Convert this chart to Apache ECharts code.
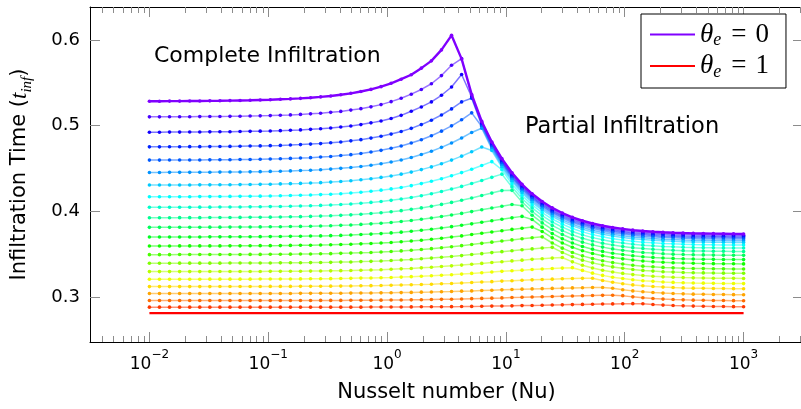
<!DOCTYPE html>
<html>
<head>
<meta charset="utf-8">
<script src="https://cdn.jsdelivr.net/npm/echarts@6/dist/echarts.min.js"></script>
<style>
  html, body { margin: 0; padding: 0; background: #fff; }
  #chart { width: 801px; height: 409px; }
</style>
</head>
<body>
<div id="chart"></div>
<script>
// Nusselt numbers of the sampled cases (60 log-spaced values, 1e-2 .. 1e3)
const nu = [0.01, 0.012155, 0.014774, 0.017957, 0.021827, 0.02653, 0.032247, 0.039195, 0.047641, 0.057906,
  0.070384, 0.08555, 0.10398, 0.12638, 0.15362, 0.18672, 0.22696, 0.27585, 0.33529, 0.40754,
  0.49536, 0.6021, 0.73185, 0.88955, 1.0812, 1.3141, 1.5973, 1.9415, 2.3599, 2.8683,
  3.4864, 4.2377, 5.1508, 6.2607, 7.6097, 9.2494, 11.242, 13.664, 16.609, 20.188,
  24.538, 29.825, 36.252, 44.064, 53.559, 65.1, 79.127, 96.178, 116.9, 142.08,
  172.7, 209.91, 255.15, 310.13, 376.95, 458.18, 556.9, 676.9, 822.76, 1000];

// Infiltration time t_inf for each theta_e curve (theta_e = 0 first, theta_e = 1 last)
const tInf00 = [0.5286,0.5286,0.5287,0.5287,0.5288,0.5289,0.5290,0.5291,0.5293,0.5295,0.5297,0.5300,0.5303,0.5308,0.5313,0.5319,0.5327,0.5336,0.5347,0.5361,0.5378,0.5399,0.5424,0.5456,0.5495,0.5543,0.5595,0.5672,0.5757,0.5885,0.6055,0.5780,0.5365,0.5050,0.4810,0.4615,0.4450,0.4315,0.4205,0.4115,0.4040,0.3980,0.3930,0.3890,0.3858,0.3832,0.3811,0.3795,0.3781,0.3770,0.3762,0.3755,0.3750,0.3746,0.3743,0.3741,0.3739,0.3738,0.3737,0.3736];
const tInf01 = [0.5103,0.5103,0.5104,0.5104,0.5105,0.5106,0.5107,0.5108,0.5109,0.5111,0.5113,0.5115,0.5118,0.5122,0.5126,0.5132,0.5138,0.5146,0.5156,0.5167,0.5182,0.5199,0.5220,0.5246,0.5281,0.5320,0.5368,0.5423,0.5490,0.5585,0.5705,0.5783,0.5350,0.5035,0.4795,0.4600,0.4435,0.4300,0.4190,0.4100,0.4025,0.3965,0.3915,0.3875,0.3843,0.3817,0.3796,0.3780,0.3766,0.3755,0.3747,0.3740,0.3735,0.3731,0.3728,0.3726,0.3724,0.3723,0.3722,0.3721];
const tInf02 = [0.4924,0.4924,0.4925,0.4925,0.4926,0.4927,0.4928,0.4929,0.4930,0.4932,0.4934,0.4936,0.4938,0.4942,0.4946,0.4951,0.4957,0.4964,0.4973,0.4984,0.4997,0.5013,0.5033,0.5055,0.5084,0.5121,0.5168,0.5219,0.5278,0.5355,0.5452,0.5597,0.5335,0.5020,0.4780,0.4585,0.4420,0.4285,0.4175,0.4085,0.4010,0.3950,0.3900,0.3860,0.3828,0.3802,0.3781,0.3765,0.3751,0.3740,0.3732,0.3725,0.3720,0.3716,0.3713,0.3711,0.3709,0.3708,0.3707,0.3706];
const tInf03 = [0.4753,0.4753,0.4754,0.4754,0.4755,0.4755,0.4756,0.4757,0.4758,0.4760,0.4762,0.4764,0.4767,0.4770,0.4774,0.4779,0.4785,0.4791,0.4800,0.4810,0.4823,0.4837,0.4855,0.4876,0.4902,0.4933,0.4969,0.5013,0.5064,0.5125,0.5196,0.5278,0.5320,0.5005,0.4765,0.4570,0.4405,0.4270,0.4160,0.4070,0.3995,0.3935,0.3885,0.3845,0.3813,0.3787,0.3766,0.3750,0.3736,0.3725,0.3717,0.3710,0.3705,0.3701,0.3698,0.3696,0.3694,0.3693,0.3692,0.3691];
const tInf04 = [0.4598,0.4598,0.4599,0.4599,0.4599,0.4600,0.4601,0.4602,0.4603,0.4605,0.4606,0.4608,0.4611,0.4614,0.4618,0.4622,0.4627,0.4634,0.4641,0.4651,0.4662,0.4676,0.4692,0.4712,0.4736,0.4763,0.4797,0.4836,0.4882,0.4936,0.4998,0.5069,0.5150,0.4990,0.4750,0.4555,0.4390,0.4255,0.4145,0.4055,0.3980,0.3920,0.3870,0.3830,0.3798,0.3772,0.3751,0.3735,0.3721,0.3710,0.3702,0.3695,0.3690,0.3686,0.3683,0.3681,0.3679,0.3678,0.3677,0.3676];
const tInf05 = [0.4454,0.4454,0.4455,0.4455,0.4455,0.4456,0.4457,0.4458,0.4459,0.4460,0.4461,0.4463,0.4466,0.4468,0.4472,0.4476,0.4480,0.4486,0.4493,0.4502,0.4511,0.4524,0.4538,0.4556,0.4576,0.4600,0.4629,0.4663,0.4702,0.4747,0.4798,0.4856,0.4921,0.4970,0.4730,0.4535,0.4370,0.4235,0.4125,0.4035,0.3960,0.3900,0.3850,0.3810,0.3778,0.3752,0.3731,0.3715,0.3701,0.3690,0.3682,0.3675,0.3670,0.3666,0.3663,0.3661,0.3659,0.3658,0.3657,0.3656];
const tInf06 = [0.4307,0.4307,0.4308,0.4308,0.4308,0.4309,0.4309,0.4310,0.4311,0.4312,0.4314,0.4315,0.4317,0.4320,0.4323,0.4326,0.4330,0.4335,0.4341,0.4349,0.4357,0.4368,0.4381,0.4396,0.4413,0.4434,0.4458,0.4487,0.4519,0.4556,0.4598,0.4644,0.4695,0.4751,0.4710,0.4515,0.4350,0.4215,0.4105,0.4015,0.3940,0.3880,0.3830,0.3790,0.3758,0.3732,0.3711,0.3695,0.3681,0.3670,0.3662,0.3655,0.3650,0.3646,0.3643,0.3641,0.3639,0.3638,0.3637,0.3636];
const tInf07 = [0.4170,0.4170,0.4170,0.4171,0.4171,0.4172,0.4172,0.4173,0.4174,0.4175,0.4176,0.4177,0.4179,0.4181,0.4184,0.4187,0.4190,0.4195,0.4200,0.4206,0.4214,0.4223,0.4234,0.4247,0.4262,0.4279,0.4300,0.4324,0.4351,0.4381,0.4415,0.4452,0.4492,0.4535,0.4580,0.4485,0.4320,0.4185,0.4075,0.3985,0.3910,0.3850,0.3800,0.3760,0.3728,0.3702,0.3681,0.3665,0.3651,0.3640,0.3632,0.3625,0.3620,0.3616,0.3613,0.3611,0.3609,0.3608,0.3607,0.3606];
const tInf08 = [0.4047,0.4047,0.4047,0.4048,0.4048,0.4049,0.4049,0.4050,0.4051,0.4051,0.4052,0.4053,0.4055,0.4057,0.4059,0.4062,0.4065,0.4069,0.4074,0.4079,0.4086,0.4094,0.4104,0.4115,0.4128,0.4144,0.4162,0.4182,0.4205,0.4231,0.4260,0.4291,0.4325,0.4360,0.4397,0.4434,0.4285,0.4150,0.4040,0.3950,0.3875,0.3815,0.3765,0.3725,0.3693,0.3667,0.3646,0.3630,0.3616,0.3605,0.3597,0.3590,0.3585,0.3581,0.3578,0.3576,0.3574,0.3573,0.3572,0.3571];
const tInf09 = [0.3925,0.3925,0.3925,0.3926,0.3926,0.3926,0.3927,0.3928,0.3928,0.3929,0.3930,0.3931,0.3932,0.3934,0.3936,0.3938,0.3941,0.3944,0.3948,0.3953,0.3959,0.3966,0.3974,0.3984,0.3995,0.4008,0.4023,0.4040,0.4059,0.4081,0.4104,0.4129,0.4156,0.4184,0.4213,0.4242,0.4245,0.4110,0.4000,0.3910,0.3835,0.3775,0.3725,0.3685,0.3653,0.3627,0.3606,0.3590,0.3576,0.3565,0.3557,0.3550,0.3545,0.3541,0.3538,0.3536,0.3534,0.3533,0.3532,0.3531];
const tInf10 = [0.3813,0.3813,0.3813,0.3814,0.3814,0.3814,0.3815,0.3815,0.3816,0.3816,0.3817,0.3818,0.3819,0.3820,0.3822,0.3824,0.3826,0.3829,0.3832,0.3836,0.3841,0.3847,0.3854,0.3861,0.3870,0.3881,0.3893,0.3907,0.3922,0.3939,0.3957,0.3976,0.3997,0.4018,0.4039,0.4060,0.4080,0.4065,0.3955,0.3865,0.3790,0.3730,0.3680,0.3640,0.3608,0.3582,0.3561,0.3545,0.3531,0.3520,0.3512,0.3505,0.3500,0.3496,0.3493,0.3491,0.3489,0.3488,0.3487,0.3486];
const tInf11 = [0.3700,0.3700,0.3700,0.3701,0.3701,0.3701,0.3702,0.3702,0.3703,0.3703,0.3703,0.3704,0.3705,0.3706,0.3708,0.3709,0.3711,0.3713,0.3716,0.3719,0.3723,0.3729,0.3734,0.3740,0.3748,0.3757,0.3767,0.3779,0.3791,0.3806,0.3821,0.3837,0.3854,0.3872,0.3890,0.3907,0.3924,0.3941,0.3905,0.3815,0.3740,0.3680,0.3630,0.3590,0.3558,0.3532,0.3511,0.3495,0.3481,0.3470,0.3462,0.3455,0.3450,0.3446,0.3443,0.3441,0.3439,0.3438,0.3437,0.3436];
const tInf12 = [0.3595,0.3595,0.3595,0.3596,0.3596,0.3596,0.3596,0.3596,0.3597,0.3597,0.3598,0.3599,0.3599,0.3600,0.3602,0.3603,0.3604,0.3607,0.3609,0.3612,0.3615,0.3620,0.3625,0.3630,0.3636,0.3644,0.3653,0.3663,0.3674,0.3686,0.3700,0.3713,0.3729,0.3744,0.3759,0.3774,0.3789,0.3803,0.3816,0.3765,0.3690,0.3630,0.3580,0.3540,0.3508,0.3482,0.3461,0.3445,0.3431,0.3420,0.3412,0.3405,0.3400,0.3396,0.3393,0.3391,0.3389,0.3388,0.3387,0.3386];
const tInf13 = [0.3494,0.3494,0.3494,0.3495,0.3495,0.3495,0.3495,0.3495,0.3496,0.3496,0.3497,0.3497,0.3498,0.3499,0.3500,0.3501,0.3502,0.3504,0.3506,0.3509,0.3512,0.3516,0.3520,0.3525,0.3531,0.3538,0.3546,0.3555,0.3564,0.3575,0.3587,0.3599,0.3613,0.3626,0.3640,0.3653,0.3666,0.3679,0.3691,0.3702,0.3630,0.3570,0.3520,0.3480,0.3448,0.3422,0.3401,0.3385,0.3371,0.3360,0.3352,0.3345,0.3340,0.3336,0.3333,0.3331,0.3329,0.3328,0.3327,0.3326];
const tInf14 = [0.3394,0.3394,0.3394,0.3395,0.3395,0.3395,0.3395,0.3395,0.3396,0.3396,0.3396,0.3397,0.3397,0.3398,0.3399,0.3400,0.3401,0.3403,0.3404,0.3407,0.3409,0.3413,0.3416,0.3420,0.3425,0.3431,0.3438,0.3446,0.3454,0.3463,0.3473,0.3483,0.3495,0.3506,0.3518,0.3529,0.3540,0.3551,0.3561,0.3571,0.3579,0.3520,0.3470,0.3430,0.3398,0.3372,0.3351,0.3335,0.3321,0.3310,0.3302,0.3295,0.3290,0.3286,0.3283,0.3281,0.3279,0.3278,0.3277,0.3276];
const tInf15 = [0.3296,0.3296,0.3296,0.3296,0.3296,0.3296,0.3297,0.3297,0.3297,0.3297,0.3298,0.3298,0.3299,0.3299,0.3300,0.3301,0.3302,0.3303,0.3305,0.3307,0.3309,0.3312,0.3315,0.3318,0.3323,0.3328,0.3333,0.3340,0.3347,0.3355,0.3363,0.3372,0.3382,0.3392,0.3402,0.3412,0.3421,0.3430,0.3439,0.3447,0.3454,0.3460,0.3410,0.3370,0.3338,0.3312,0.3291,0.3275,0.3261,0.3250,0.3242,0.3235,0.3230,0.3226,0.3223,0.3221,0.3219,0.3218,0.3217,0.3216];
const tInf16 = [0.3207,0.3207,0.3207,0.3207,0.3207,0.3207,0.3208,0.3208,0.3208,0.3208,0.3208,0.3209,0.3209,0.3210,0.3210,0.3211,0.3212,0.3213,0.3214,0.3216,0.3217,0.3220,0.3222,0.3225,0.3228,0.3232,0.3237,0.3242,0.3247,0.3254,0.3260,0.3267,0.3275,0.3283,0.3291,0.3299,0.3306,0.3313,0.3320,0.3326,0.3332,0.3337,0.3342,0.3310,0.3278,0.3252,0.3231,0.3215,0.3201,0.3190,0.3182,0.3175,0.3170,0.3166,0.3163,0.3161,0.3159,0.3158,0.3157,0.3156];
const tInf17 = [0.3121,0.3121,0.3121,0.3121,0.3121,0.3121,0.3121,0.3122,0.3122,0.3122,0.3122,0.3122,0.3123,0.3123,0.3123,0.3124,0.3124,0.3125,0.3126,0.3127,0.3128,0.3130,0.3132,0.3133,0.3136,0.3139,0.3142,0.3145,0.3149,0.3154,0.3158,0.3163,0.3168,0.3174,0.3179,0.3185,0.3190,0.3195,0.3200,0.3204,0.3208,0.3212,0.3215,0.3217,0.3218,0.3192,0.3171,0.3155,0.3141,0.3130,0.3122,0.3115,0.3110,0.3106,0.3103,0.3101,0.3099,0.3098,0.3097,0.3096];
const tInf18 = [0.3040,0.3040,0.3040,0.3040,0.3040,0.3040,0.3040,0.3040,0.3040,0.3040,0.3040,0.3040,0.3040,0.3041,0.3041,0.3042,0.3042,0.3043,0.3043,0.3044,0.3045,0.3046,0.3047,0.3048,0.3049,0.3051,0.3053,0.3056,0.3058,0.3061,0.3064,0.3068,0.3071,0.3075,0.3079,0.3083,0.3087,0.3091,0.3094,0.3097,0.3100,0.3103,0.3106,0.3108,0.3110,0.3111,0.3101,0.3085,0.3071,0.3060,0.3052,0.3045,0.3040,0.3036,0.3033,0.3031,0.3029,0.3028,0.3027,0.3026];
const tInf19 = [0.2958,0.2958,0.2958,0.2958,0.2958,0.2958,0.2958,0.2958,0.2958,0.2958,0.2958,0.2958,0.2958,0.2958,0.2958,0.2959,0.2959,0.2960,0.2960,0.2960,0.2961,0.2961,0.2962,0.2963,0.2964,0.2965,0.2966,0.2968,0.2970,0.2972,0.2974,0.2977,0.2980,0.2983,0.2986,0.2989,0.2993,0.2996,0.3000,0.3003,0.3006,0.3009,0.3012,0.3015,0.3017,0.3019,0.3020,0.3015,0.3001,0.2990,0.2982,0.2975,0.2970,0.2966,0.2963,0.2961,0.2959,0.2958,0.2957,0.2956];
const tInf20 = [0.2881,0.2881,0.2881,0.2881,0.2881,0.2881,0.2881,0.2881,0.2881,0.2881,0.2881,0.2881,0.2881,0.2881,0.2881,0.2881,0.2881,0.2881,0.2881,0.2881,0.2881,0.2881,0.2882,0.2883,0.2883,0.2883,0.2884,0.2885,0.2885,0.2886,0.2887,0.2888,0.2890,0.2891,0.2893,0.2894,0.2896,0.2899,0.2901,0.2903,0.2906,0.2908,0.2911,0.2913,0.2915,0.2917,0.2919,0.2921,0.2922,0.2920,0.2912,0.2905,0.2900,0.2896,0.2893,0.2891,0.2889,0.2888,0.2887,0.2886];
const tInf21 = [0.2811,0.2811,0.2811,0.2811,0.2811,0.2811,0.2811,0.2811,0.2811,0.2811,0.2811,0.2811,0.2811,0.2811,0.2811,0.2811,0.2811,0.2811,0.2811,0.2811,0.2811,0.2811,0.2811,0.2811,0.2811,0.2811,0.2811,0.2811,0.2811,0.2811,0.2811,0.2811,0.2811,0.2811,0.2811,0.2811,0.2811,0.2811,0.2811,0.2811,0.2811,0.2811,0.2811,0.2811,0.2811,0.2811,0.2811,0.2811,0.2811,0.2811,0.2811,0.2811,0.2811,0.2811,0.2811,0.2811,0.2811,0.2811,0.2811,0.2811];

// Axis ticks
const xMajorTicks = [0.01, 0.1, 1, 10, 100, 1000];
const xMinorTicks = [0.004, 0.005, 0.006, 0.007, 0.008, 0.009,
  0.02, 0.03, 0.04, 0.05, 0.06, 0.07, 0.08, 0.09,
  0.2, 0.3, 0.4, 0.5, 0.6, 0.7, 0.8, 0.9,
  2, 3, 4, 5, 6, 7, 8, 9,
  20, 30, 40, 50, 60, 70, 80, 90,
  200, 300, 400, 500, 600, 700, 800, 900,
  2000, 3000];
const yTicks = [0.3, 0.4, 0.5, 0.6];
const legendValues = ['0', '1'];

// Rainbow from violet (theta_e = 0) to red (theta_e = 1)
const curveColors = ['#8000ff', '#4900ff', '#1200ff', '#0024ff', '#005bff', '#0092ff', '#00c9ff', '#00ffff',
  '#00ffc9', '#00ff92', '#00ff5b', '#00ff24', '#12ff00', '#49ff00', '#80ff00', '#b6ff00',
  '#edff00', '#ffdb00', '#ffa400', '#ff6d00', '#ff3700', '#ff0000'];

const curves = [tInf00, tInf01, tInf02, tInf03, tInf04, tInf05, tInf06, tInf07, tInf08, tInf09, tInf10,
  tInf11, tInf12, tInf13, tInf14, tInf15, tInf16, tInf17, tInf18, tInf19, tInf20, tInf21];

const SANS = '"DejaVu Sans", sans-serif';
const MATH = '"Liberation Serif", serif';
const X_MIN = 0.0031623, X_MAX = 3162.28;
const Y_MIN = 0.2474, Y_MAX = 0.6386;
const TICK = '#8c8c8c';

const legendName = v => '\u03b8e = ' + v;

function powerLabel(v) {
  const e = Math.round(Math.log10(v));
  return '{b|10}{s|' + (e < 0 ? '\u2212' + (-e) : String(e)) + '}';
}

function logAxis(position, major, showLine, withLabels) {
  const ax = {
    type: 'log', logBase: 10, min: X_MIN, max: X_MAX, position: position,
    axisLine: { show: showLine, onZero: false, lineStyle: { color: '#000', width: 1 } },
    axisTick: { show: true, inside: true, length: major ? 10 : 6,
      customValues: major ? xMajorTicks : xMinorTicks, lineStyle: { color: TICK, width: 1 } },
    axisLabel: { show: false },
    splitLine: { show: false },
    minorTick: { show: false },
    minorSplitLine: { show: false }
  };
  if (withLabels) {
    ax.axisLabel = {
      show: true, customValues: xMajorTicks, margin: 7, formatter: powerLabel,
      rich: {
        b: { fontFamily: SANS, fontSize: 17, color: '#000', lineHeight: 24, verticalAlign: 'bottom' },
        s: { fontFamily: SANS, fontSize: 12, color: '#000', lineHeight: 24, verticalAlign: 'top' }
      }
    };
    ax.name = 'Nusselt number (Nu)';
    ax.nameLocation = 'middle';
    ax.nameGap = 40;
    ax.nameTextStyle = { fontFamily: SANS, fontSize: 21, color: '#000' };
  }
  return ax;
}

function valueAxis(position, withLabels) {
  const ax = {
    type: 'value', min: Y_MIN, max: Y_MAX, position: position,
    axisLine: { show: true, onZero: false, lineStyle: { color: '#000', width: 1 } },
    axisTick: { show: true, inside: true, length: 10, customValues: yTicks, lineStyle: { color: TICK, width: 1 } },
    axisLabel: { show: false },
    splitLine: { show: false }
  };
  if (withLabels) {
    ax.axisLabel = { show: true, customValues: yTicks, margin: 10, formatter: v => v.toFixed(1),
      fontFamily: SANS, fontSize: 18, color: '#000' };
    ax.name = '{a|Infiltration Time (}{t|t}{s|inf}{a|)}';
    ax.nameLocation = 'middle';
    ax.nameRotate = 90;
    ax.nameGap = 55;
    ax.nameTextStyle = {
      rich: {
        a: { fontFamily: SANS, fontSize: 21, color: '#000', lineHeight: 30, verticalAlign: 'middle' },
        t: { fontFamily: MATH, fontStyle: 'italic', fontSize: 23, color: '#000', lineHeight: 30, verticalAlign: 'middle' },
        s: { fontFamily: MATH, fontStyle: 'italic', fontSize: 15, color: '#000', lineHeight: 30, verticalAlign: 'bottom' }
      }
    };
  }
  return ax;
}

const lastIdx = curves.length - 1;
const series = curves.map((vals, k) => {
  const edge = k === 0 || k === lastIdx;
  return {
    type: 'line',
    name: k === 0 ? legendName(legendValues[0]) : (k === lastIdx ? legendName(legendValues[1]) : 'curve' + k),
    data: vals.map((v, i) => [nu[i], v]),
    xAxisIndex: 0, yAxisIndex: 0,
    showSymbol: k !== lastIdx,
    showAllSymbol: true,
    symbol: 'circle',
    symbolSize: 3.6,
    lineStyle: { color: curveColors[k], width: k === 0 ? 2.4 : (k === lastIdx ? 2.2 : 1.5), opacity: edge ? 1 : 0.55 },
    itemStyle: { color: curveColors[k] },
    emphasis: { disabled: true },
    z: edge ? 4 : 2,
    silent: true
  };
});

const chart = echarts.init(document.getElementById('chart'), null, { renderer: 'canvas' });
chart.setOption({
  animation: false,
  backgroundColor: '#fff',
  textStyle: { fontFamily: SANS },
  // plot frame runs slightly past the right edge of the canvas
  grid: { left: 90, top: 7, width: 713, height: 335, containLabel: false, outerBoundsMode: 'none' },
  xAxis: [
    logAxis('bottom', true, true, true),
    logAxis('bottom', false, false, false),
    logAxis('top', true, true, false),
    logAxis('top', false, false, false)
  ],
  yAxis: [valueAxis('left', true), valueAxis('right', false)],
  legend: {
    data: [legendName(legendValues[0]), legendName(legendValues[1])],
    orient: 'vertical', left: 641, top: 14,
    padding: [7, 17, 7, 9], itemGap: 3,
    itemWidth: 45, itemHeight: 2, icon: 'rect',
    borderColor: '#000', borderWidth: 1, borderRadius: 0, backgroundColor: '#fff',
    selectedMode: false,
    formatter: name => '{th|\u03b8}{sub|e}{op|=}{num|' + name.slice(-1) + '}',
    textStyle: {
      rich: {
        th: { fontFamily: MATH, fontStyle: 'italic', fontSize: 27, color: '#000', lineHeight: 30, verticalAlign: 'middle' },
        sub: { fontFamily: MATH, fontStyle: 'italic', fontSize: 18, color: '#000', lineHeight: 30, verticalAlign: 'bottom' },
        op: { fontFamily: MATH, fontSize: 27, color: '#000', lineHeight: 30, verticalAlign: 'middle', padding: [0, 9, 0, 10] },
        num: { fontFamily: MATH, fontSize: 27, color: '#000', lineHeight: 30, verticalAlign: 'middle' }
      }
    }
  },
  graphic: [
    { type: 'text', silent: true, style: { x: 154, y: 56, text: 'Complete Infiltration', font: '22px ' + SANS, fill: '#000', textVerticalAlign: 'middle' } },
    { type: 'text', silent: true, style: { x: 525, y: 127, text: 'Partial Infiltration', font: '22.5px ' + SANS, fill: '#000', textVerticalAlign: 'middle' } }
  ],
  series: series
});
</script>
</body>
</html>
